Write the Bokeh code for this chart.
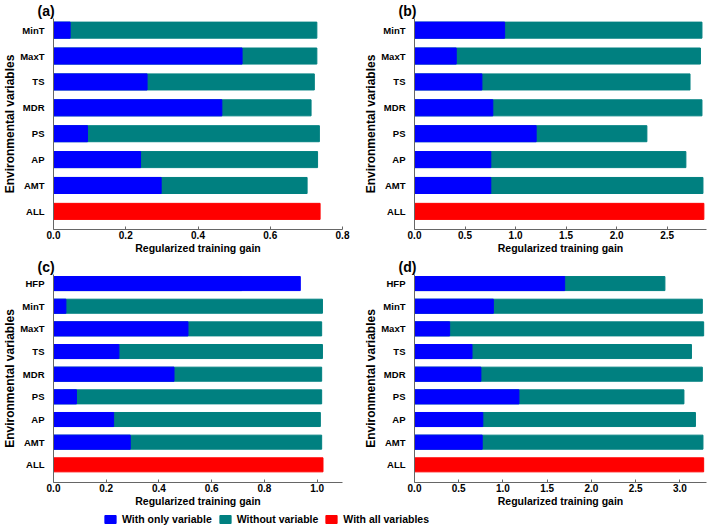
from bokeh.plotting import figure
from bokeh.models import (Range1d, FixedTicker, SingleIntervalTicker, NumeralTickFormatter,
                          Title, Legend, LegendItem, ColumnDataSource)
from bokeh.layouts import column, row
from bokeh.embed import file_html
from bokeh.resources import INLINE

FONT = "Liberation Sans"
BLUE = "#0000FF"
TEAL = "#008080"
RED = "#FF0000"
AXIS = "#666666"

# ---------------- data ----------------
vars_ab = ["MinT", "MaxT", "TS", "MDR", "PS", "AP", "AMT"]
a_only = [0.046, 0.522, 0.259, 0.466, 0.094, 0.241, 0.298]
a_without = [0.729, 0.729, 0.722, 0.713, 0.736, 0.731, 0.702]
a_all = 0.738

b_only = [0.892, 0.413, 0.667, 0.775, 1.204, 0.755, 0.755]
b_without = [2.845, 2.830, 2.727, 2.845, 2.300, 2.686, 2.855]
b_all = 2.864

vars_cd = ["HFP", "MinT", "MaxT", "TS", "MDR", "PS", "AP", "AMT"]
c_only = [0.936, 0.047, 0.510, 0.248, 0.457, 0.087, 0.228, 0.291]
c_without = [0.714, 1.020, 1.017, 1.020, 1.017, 1.017, 1.012, 1.017]
c_all = 1.022

d_only = [1.697, 0.891, 0.397, 0.650, 0.750, 1.180, 0.772, 0.765]
d_without = [2.830, 3.253, 3.268, 3.130, 3.253, 3.045, 3.175, 3.260]
d_all = 3.268

legend_labels = ["With only variable", "Without variable", "With all variables"]
x_title = "Regularized training gain"
y_title = "Environmental variables"


def panel(tag, names, only, without, all_val, xmax, xstep, width, height,
          pad_top, pad_bottom, right_border):
    cats = ["ALL"] + names[::-1]          # bottom -> top, row index = position
    n = len(cats)
    ypos = list(range(n))
    title = Title(text=tag, align="left", offset=-16, standoff=0,
                  text_font=FONT, text_font_style="bold",
                  text_font_size="14px", text_color="black")
    p = figure(width=width, height=height, output_backend="svg", toolbar_location=None,
               title=title,
               x_range=Range1d(0, xmax),
               y_range=Range1d(-pad_bottom, n - 1 + pad_top),
               min_border_top=0, min_border_right=right_border,
               min_border_left=0, min_border_bottom=0)
    var_y = [n - 1 - i for i in range(len(names))]
    src = ColumnDataSource(dict(y=var_y, only=only, without=without))
    p.hbar(y="y", left=0, right="without", height=0.62, color=TEAL, source=src)
    p.hbar(y="y", left=0, right="only", height=0.62, color=BLUE, source=src)
    p.hbar(y=[0], left=0, right=[all_val], height=0.62, color=RED)

    p.xgrid.visible = False
    p.ygrid.visible = False
    p.outline_line_color = None

    xa = p.xaxis[0]
    xa.ticker = SingleIntervalTicker(interval=xstep, num_minor_ticks=0)
    xa.formatter = NumeralTickFormatter(format="0.0")
    xa.axis_label = x_title
    xa.axis_label_text_font = FONT
    xa.axis_label_text_font_style = "bold"
    xa.axis_label_text_font_size = "10.5px"
    xa.axis_label_text_color = "black"
    xa.axis_label_standoff = 0
    xa.major_label_text_font = FONT
    xa.major_label_text_font_style = "bold"
    xa.major_label_text_font_size = "10px"
    xa.major_label_text_color = "black"
    xa.major_label_standoff = 1
    xa.major_tick_in = 3
    xa.major_tick_out = 0
    xa.minor_tick_line_color = None
    xa.axis_line_color = AXIS
    xa.major_tick_line_color = AXIS

    ya = p.yaxis[0]
    ya.ticker = FixedTicker(ticks=ypos)
    ya.major_label_overrides = {i: c for i, c in zip(ypos, cats)}
    ya.axis_label = y_title
    ya.axis_label_text_font = FONT
    ya.axis_label_text_font_style = "bold"
    ya.axis_label_text_font_size = "12px"
    ya.axis_label_text_color = "black"
    ya.axis_label_standoff = 0
    ya.major_label_text_font = FONT
    ya.major_label_text_font_style = "bold"
    ya.major_label_text_font_size = "9.5px"
    ya.major_label_text_color = "black"
    ya.major_label_standoff = 3
    ya.major_tick_line_color = None
    ya.minor_tick_line_color = None
    ya.axis_line_color = AXIS
    return p


pa = panel("(a)", vars_ab, a_only, a_without, a_all, 0.8, 0.2, 361, 256, 0.45, 0.7, 19)
pb = panel("(b)", vars_ab, b_only, b_without, b_all, 2.89, 0.5, 347, 256, 0.45, 0.7, 2)
pc = panel("(c)", vars_cd, c_only, c_without, c_all, 1.096, 0.2, 361, 253, 0.4, 0.78, 19)
pd_ = panel("(d)", vars_cd, d_only, d_without, d_all, 3.3, 0.5, 347, 253, 0.4, 0.78, 2)

# ---------------- legend strip ----------------
pl = figure(width=708, height=19, output_backend="svg", toolbar_location=None,
            x_range=Range1d(0, 1), y_range=Range1d(0, 1),
            x_axis_type=None, y_axis_type=None, min_border=0)
pl.outline_line_color = None
pl.xgrid.visible = False
pl.ygrid.visible = False
r1 = pl.hbar(y=[5], left=[5], right=[6], height=0.5, color=BLUE)
r2 = pl.hbar(y=[5], left=[5], right=[6], height=0.5, color=TEAL)
r3 = pl.hbar(y=[5], left=[5], right=[6], height=0.5, color=RED)
leg = Legend(items=[LegendItem(label=legend_labels[0], renderers=[r1]),
                    LegendItem(label=legend_labels[1], renderers=[r2]),
                    LegendItem(label=legend_labels[2], renderers=[r3])],
             orientation="horizontal", location=(103, 3),
             border_line_color=None, background_fill_alpha=0,
             padding=0, margin=0, spacing=6, glyph_width=14, glyph_height=10,
             label_height=10, label_standoff=5,
             label_text_font=FONT, label_text_font_style="bold",
             label_text_font_size="10.5px", label_text_color="black")
pl.add_layout(leg, "center")

layout = column(row(pa, pb), row(pc, pd_), pl)
open("out.html", "w").write(file_html(layout, INLINE))
